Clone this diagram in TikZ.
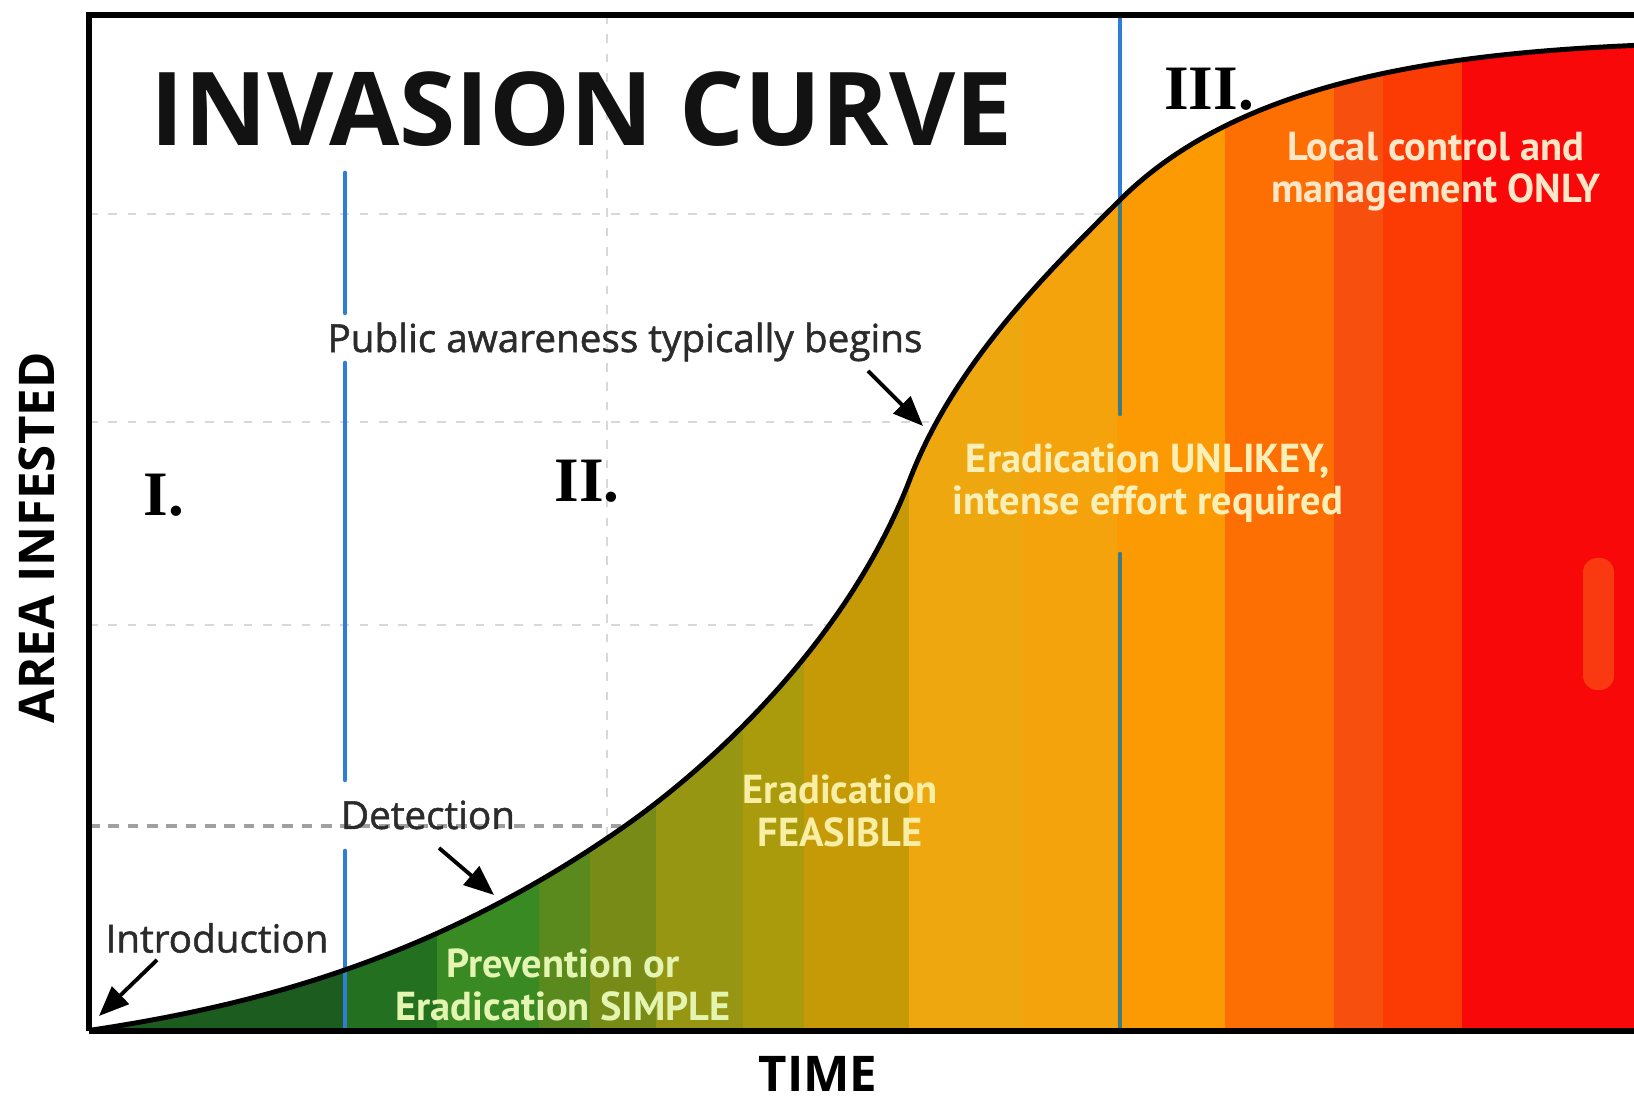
\documentclass[tikz,border=0pt]{standalone}
\usepackage{fontspec}
\setmainfont{Open Sans}
\newfontfamily\notefont[FakeBold=1.3]{Open Sans}
\newfontfamily\labelfont{PT Sans}
\newfontfamily\romanfont{Liberation Serif}
\usepackage{tikz}
\usetikzlibrary{arrows.meta}

\definecolor{band1}{HTML}{1C5D1F}
\definecolor{band2}{HTML}{237020}
\definecolor{band3}{HTML}{3A8A24}
\definecolor{band4}{HTML}{5A8A1E}
\definecolor{band5}{HTML}{788B17}
\definecolor{band6}{HTML}{969612}
\definecolor{band7}{HTML}{AA9B0C}
\definecolor{band8}{HTML}{C69A07}
\definecolor{band9}{HTML}{EEA70F}
\definecolor{band10}{HTML}{F5A30C}
\definecolor{band11}{HTML}{FC9A03}
\definecolor{band12}{HTML}{FD6E03}
\definecolor{band13}{HTML}{F7500E}
\definecolor{band14}{HTML}{FC3A04}
\definecolor{band15}{HTML}{F80808}
\definecolor{blobred}{HTML}{F93A10}
\definecolor{phaseblue}{HTML}{2F7ED6}
\definecolor{phaseteal}{HTML}{3F7B82}
\definecolor{gridgray}{HTML}{D8D8D8}
\definecolor{detectgray}{HTML}{A0A0A0}
\definecolor{labelgray}{HTML}{2B2B2B}
\definecolor{paleleaf}{HTML}{E4F5B2}
\definecolor{paleyellow}{HTML}{F8EEA4}
\definecolor{palecream}{HTML}{FBEFB8}
\definecolor{palepeach}{HTML}{FFE6C6}

\begin{document}
\begin{tikzpicture}[
    note/.style={font=\notefont\fontsize{11}{13}\selectfont, text=labelgray, inner sep=1pt},
    inside/.style={font=\labelfont\bfseries\fontsize{11.5}{12}\selectfont, align=center, inner sep=1pt},
    phase/.style={font=\romanfont\bfseries\fontsize{18}{20}\selectfont},
    axislabel/.style={font=\bfseries\fontsize{14}{16}\selectfont, inner sep=0pt},
    pointer/.style={-{Triangle[length=3mm,width=2.4mm]}, line width=1.1pt},
    gridline/.style={gridgray, dash pattern=on 2.5pt off 3pt, line width=0.8pt},
    phaseline/.style={line width=1.3pt, line cap=round}
]
\useasboundingbox (0,0) rectangle (16.34,11.01);
\fill[white] (0,0) rectangle (16.34,11.01);

% grid
\draw[gridline] (0.89,8.87) -- (16.34,8.87);
\draw[gridline] (0.89,6.79) -- (16.34,6.79);
\draw[gridline] (0.89,4.76) -- (16.34,4.76);
\draw[gridline] (6.07,10.86) -- (6.07,2.60);
\draw[detectgray, dash pattern=on 3pt off 2.5pt, line width=1pt] (0.89,2.75) -- (6.25,2.75);

% coloured area under the curve
\begin{scope}
  \clip (0.92,0.71) .. controls (2.72,0.98) and (4.45,1.49) .. (6.25,2.75)
    .. controls (7.20,3.42) and (8.50,4.66) .. (9.10,6.22)
    .. controls (9.55,7.39) and (10.50,8.31) .. (11.20,9.01)
    .. controls (12.40,10.21) and (14.45,10.48) .. (16.45,10.56)
    -- (16.45,0.70) -- (0.92,0.70) -- cycle;
  \foreach \xa/\xb/\col in {0.80/3.45/band1, 3.45/4.37/band2, 4.37/5.39/band3, 5.39/5.90/band4,
      5.90/6.56/band5, 6.56/7.43/band6, 7.43/8.04/band7, 8.04/9.09/band8, 9.09/10.23/band9,
      10.23/11.17/band10, 11.17/12.25/band11, 12.25/13.34/band12, 13.34/13.83/band13,
      13.83/14.62/band14, 14.62/16.45/band15}
    \fill[\col] (\xa,0.60) rectangle (\xb,11.01);
  \fill[blobred, rounded corners=1.4mm] (15.83,4.11) rectangle (16.14,5.43);
\end{scope}

% phase lines
\draw[phaseline, phaseblue] (3.45,9.28) -- (3.45,7.88);
\draw[phaseline, phaseblue] (3.45,7.38) -- (3.45,3.21);
\draw[phaseline, phaseblue] (3.45,2.50) -- (3.45,0.70);
\draw[phaseline, phaseblue] (11.20,10.86) -- (11.20,9.01);
\draw[phaseline, phaseteal] (11.20,9.01) -- (11.20,6.87);
\draw[phaseline, phaseteal] (11.20,5.47) -- (11.20,0.70);

% curve
\draw[line width=1.4pt] (0.92,0.71) .. controls (2.72,0.98) and (4.45,1.49) .. (6.25,2.75)
    .. controls (7.20,3.42) and (8.50,4.66) .. (9.10,6.22)
    .. controls (9.55,7.39) and (10.50,8.31) .. (11.20,9.01)
    .. controls (12.40,10.21) and (14.45,10.48) .. (16.45,10.56);

% frame
\draw[line width=1.5pt] (0.89,0.70) -- (0.89,10.86) -- (16.45,10.86);
\draw[line width=1.7pt] (0.89,0.70) -- (16.45,0.70);

% texts
\node[font=\bfseries\fontsize{29}{32}\selectfont, text=black!93, anchor=base west] (title) at (1.38,9.55) {INVASION CURVE};
\node[axislabel, rotate=90] (yaxis) at (0.37,5.63) {AREA INFESTED};
\node[axislabel] (xaxis) at (8.18,0.27) {TIME};
\node[phase] (phaseI) at (1.64,6.06) {I.};
\node[phase] (phaseII) at (5.87,6.20) {II.};
\node[phase] (phaseIII) at (12.09,10.12) {III.};
\node[note] (aware) at (6.25,7.59) {Public awareness typically begins};
\node[note] (detect) at (4.28,2.86) {Detection};
\node[note] (intro) at (2.17,1.63) {Introduction};
\node[inside, text=paleleaf] (simple) at (5.63,1.16) {Prevention or\\Eradication SIMPLE};
\node[inside, text=paleyellow] (feasible) at (8.40,2.90) {Eradication\\FEASIBLE};
\node[inside, text=palecream] (unlikely) at (11.48,6.18) {Eradication UNLIKEY,\\intense effort required};
\node[inside, text=palepeach] (local) at (14.36,9.29) {Local control and\\management ONLY};

% arrows
\coordinate (introTail) at (1.57,1.41);
\coordinate (introTip) at (0.99,0.85);
\coordinate (detectTail) at (4.39,2.53);
\coordinate (detectTip) at (4.94,2.06);
\coordinate (awareTail) at (8.68,7.30);
\coordinate (awareTip) at (9.23,6.75);
\draw[pointer] (introTail) -- (introTip);
\draw[pointer] (detectTail) -- (detectTip);
\draw[pointer] (awareTail) -- (awareTip);
\end{tikzpicture}
\end{document}
